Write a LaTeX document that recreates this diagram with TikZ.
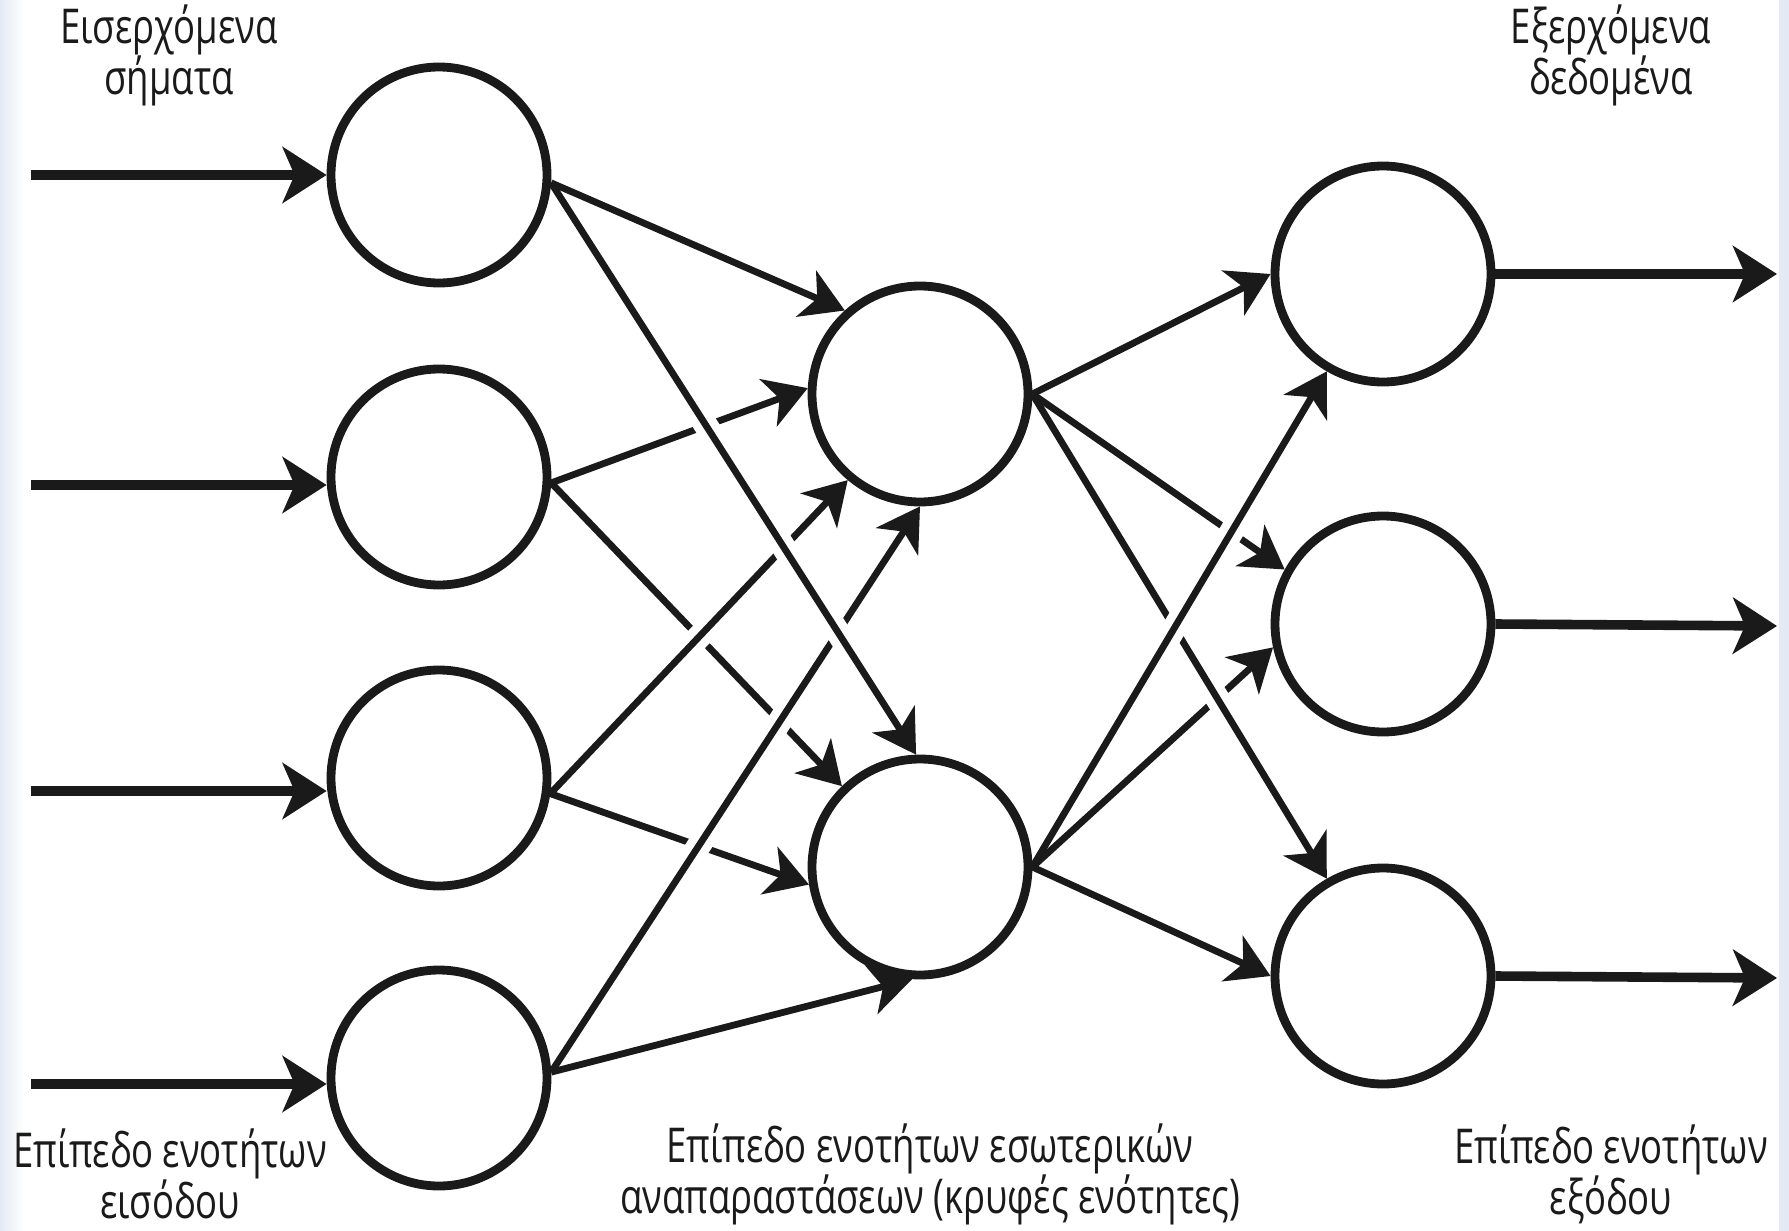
\documentclass[tikz,border=0pt]{standalone}
\usepackage{fontspec}
\setmainfont{Open Sans}[FakeStretch=0.76]
\usetikzlibrary{arrows.meta}
\definecolor{ink}{HTML}{1A1A1A}
\definecolor{bgb}{HTML}{E4EAF4}
\newcommand\nnedge[2]{\draw[halo] (#1) -- (#2); \draw[edge] (#1) -- (#2);}
\begin{document}
\begin{tikzpicture}[x=0.5pt,y=-0.5pt,
  neuron/.style={circle, draw=ink, line width=4.4pt, minimum size=108pt, inner sep=0pt},
  edge/.style={draw=ink, line width=3.4pt, -{Stealth[length=21pt,width=25pt,inset=6pt]}},
  halo/.style={draw=white, line width=12pt, shorten <=30pt, shorten >=30pt},
  io/.style={draw=ink, line width=4.8pt, -{Stealth[length=22pt,width=28pt,inset=6pt]}},
  lbl/.style={font=\fontsize{24}{25.5}\selectfont, align=center, text=ink, inner sep=0pt}]
\useasboundingbox (0,0) rectangle (1789,1231);
\fill[left color=bgb, right color=white] (0,0) rectangle (24,1231);
\fill[bgb] (1779,0) rectangle (1789,1231);

% neurons
\node[neuron] (I1) at (439,175) {};
\node[neuron] (I2) at (439,477) {};
\node[neuron] (I3) at (439,778) {};
\node[neuron] (I4) at (439,1078) {};
\node[neuron] (H1) at (920,394) {};
\node[neuron] (H2) at (920,867) {};
\node[neuron] (O1) at (1383,274) {};
\node[neuron] (O2) at (1383,624) {};
\node[neuron] (O3) at (1383,976) {};

% input arrows
\coordinate (s1) at (31,175);
\coordinate (s2) at (31,485);
\coordinate (s3) at (31,791);
\coordinate (s4) at (31,1084);
\draw[io] (s1) -- (s1 -| I1.west);
\draw[io] (s2) -- (s2 -| I2.west);
\draw[io] (s3) -- (s3 -| I3.west);
\draw[io] (s4) -- (s4 -| I4.west);

% output arrows
\coordinate (t1) at (1777,274);
\coordinate (t2) at (1777,626);
\coordinate (t3) at (1777,978);
\draw[io] (O1.east) -- (t1);
\draw[io] (O2.east) -- (t2);
\draw[io] (O3.east) -- (t3);

% input -> hidden (bottom lines first)
\nnedge{I1.-4}{H1.132}
\nnedge{I4.3}{H2.266}
\nnedge{I2.-3}{H2.134}
\nnedge{I2.-3}{H1.177}
\nnedge{I3.-8}{H2.189}
\nnedge{I3.-8}{H1.230}
\nnedge{I4.3}{H1.270}
\nnedge{I1.-4}{H2.92}

% hidden -> output
\nnedge{H1.0}{O1.180}
\nnedge{H2.0}{O3.180}
\nnedge{H2.0}{O2.192}
\nnedge{H1.0}{O2.151}
\nnedge{H1.0}{O3.120}
\nnedge{H2.0}{O1.240}

% labels
\node[lbl] (tl) at (169,55) {Εισερχόμενα\\σήματα};
\node[lbl] (tr) at (1611,55) {Εξερχόμενα\\δεδομένα};
\node[lbl] (bl) at (170,1174) {Επίπεδο ενοτήτων\\εισόδου};
\node[lbl] (bm) at (930,1174) {Επίπεδο ενοτήτων εσωτερικών\\αναπαραστάσεων (κρυφές ενότητες)};
\node[lbl] (br) at (1611,1174) {Επίπεδο ενοτήτων\\εξόδου};
\end{tikzpicture}
\end{document}
